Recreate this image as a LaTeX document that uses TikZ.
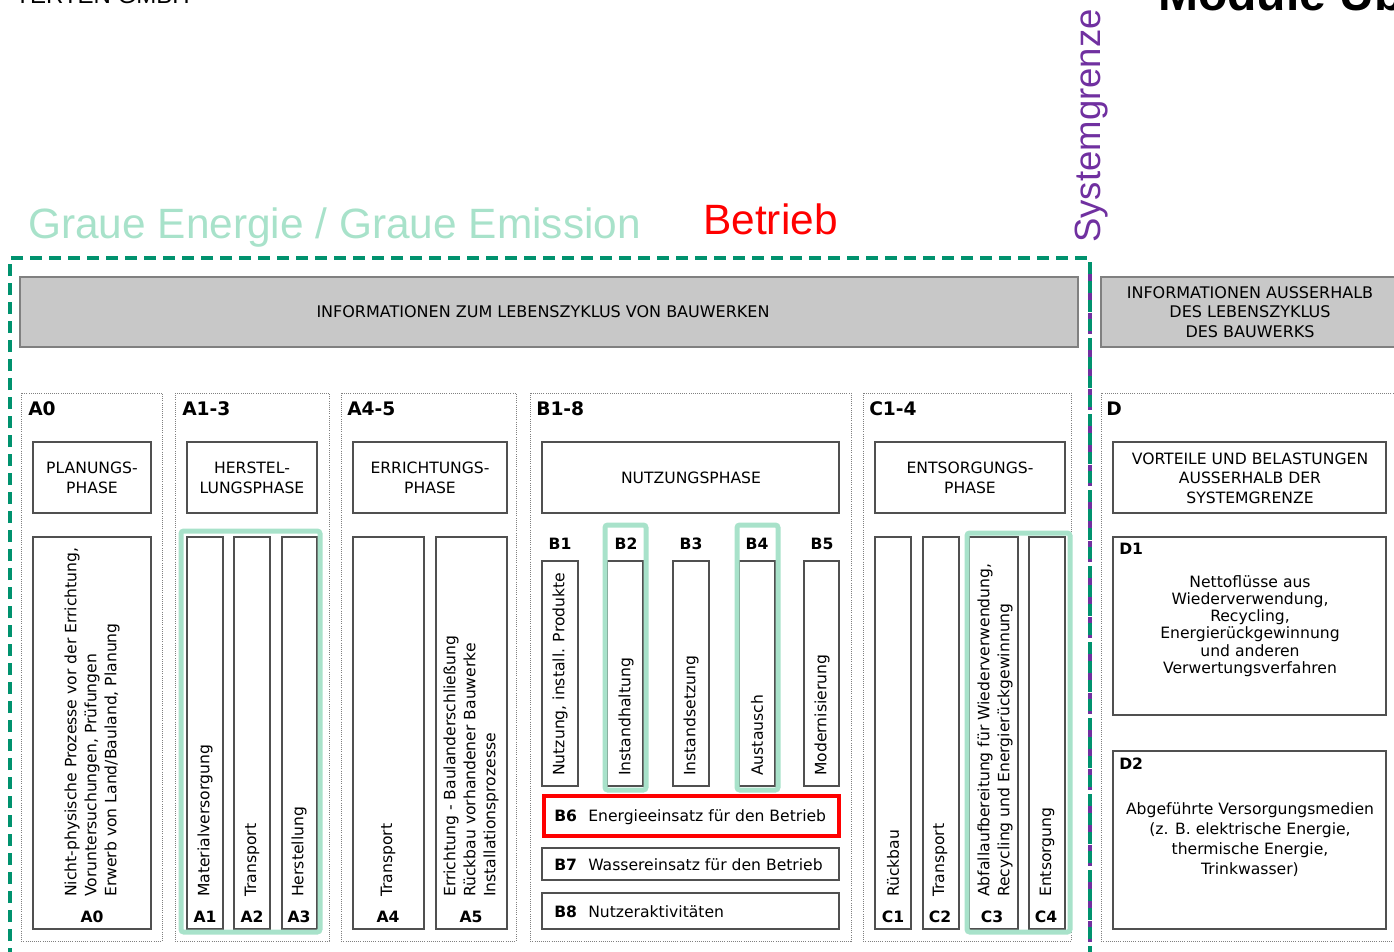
\documentclass[tikz,border=0pt]{standalone}
\usepackage{fontspec}
\setmainfont{DejaVu Sans}
\newfontfamily\arialfont{Liberation Sans}
\definecolor{dgreen}{RGB}{0,146,110}
\definecolor{lgreen}{RGB}{168,226,202}
\definecolor{sgpurple}{RGB}{112,48,160}
\definecolor{hdrgray}{RGB}{200,200,200}
\definecolor{boxline}{RGB}{80,80,80}
\definecolor{redline}{RGB}{255,0,0}
\newcommand\bfs{\fontsize{11.7pt}{15pt}\selectfont}
\begin{document}
\begin{tikzpicture}[x=0.75pt,y=-0.75pt,
  box/.style={draw=boxline,line width=1.1pt,fill=white},
  hdr/.style={draw=gray,line width=0.8pt,fill=hdrgray},
  grp/.style={draw=gray,densely dotted,line width=0.6pt},
  gframe/.style={draw=lgreen,line width=3.75pt,rounded corners=2pt},
  txt/.style={inner sep=0pt,font=\bfs,align=center},
  rtxt/.style={inner sep=0pt,font=\bfs,align=left,rotate=90,anchor=west},
  glabel/.style={inner sep=0pt,font=\fontsize{14pt}{16pt}\selectfont\bfseries,anchor=base west},
  slabel/.style={inner sep=0pt,font=\bfs\bfseries,anchor=base},
  wlabel/.style={inner sep=0pt,font=\bfs\bfseries,anchor=base west},
  wtext/.style={inner sep=0pt,font=\bfs,anchor=base west},
  gdash/.style={draw=dgreen,line width=3pt,dash pattern=on 9pt off 5.25pt},
  pdash/.style={draw=sgpurple,line width=3pt,dash pattern=on 16pt off 3pt},
]
\useasboundingbox (0,0) rectangle (1394,951);
\clip (0,0) rectangle (1394,951);

% partial texts at top edge
\node[inner sep=0pt,anchor=base east,font=\arialfont\fontsize{18pt}{20pt}\selectfont] (corp) at (190,3) {TERTEN GMBH};
\node[inner sep=0pt,anchor=base west,font=\arialfont\bfseries\fontsize{36pt}{40pt}\selectfont] (mtitle) at (1158,10) {Module Übersicht};

% titles
\node[inner sep=0pt,anchor=base west,text=lgreen,font=\arialfont\fontsize{31.8pt}{34pt}\selectfont] (graue) at (28,238) {Graue Energie / Graue Emission};
\node[inner sep=0pt,anchor=base west,text=redline,font=\arialfont\fontsize{31.8pt}{34pt}\selectfont] (betrieb) at (703,234) {Betrieb};
\node[inner sep=0pt,anchor=base west,rotate=90,text=sgpurple,font=\arialfont\fontsize{27.4pt}{30pt}\selectfont] (sysg) at (1100,243) {Systemgrenze};

% gray headers
\draw[hdr] (20,277) rectangle (1078,347);
\node[txt,font=\fontsize{12pt}{15pt}\selectfont] (infolz) at (543,312) {INFORMATIONEN ZUM LEBENSZYKLUS VON BAUWERKEN};
\draw[hdr] (1101,277) rectangle (1400,347);
\node[txt,font=\fontsize{12pt}{14.6pt}\selectfont] (infoaus) at (1250,312) {INFORMATIONEN AUSSERHALB\\DES LEBENSZYKLUS\\DES BAUWERKS};

% groups
\draw[grp] (21,393) rectangle (162,941);
\draw[grp] (175,393) rectangle (329,941);
\draw[grp] (341,393) rectangle (516,941);
\draw[grp] (530,393) rectangle (851,941);
\draw[grp] (863,393) rectangle (1071,941);
\draw[grp] (1101,393) rectangle (1400,941);
\node[glabel] (gA0) at (28,415) {A0};
\node[glabel] (gA13) at (182,415) {A1-3};
\node[glabel] (gA45) at (347,415) {A4-5};
\node[glabel] (gB18) at (536,415) {B1-8};
\node[glabel] (gC14) at (869,415) {C1-4};
\node[glabel] (gD) at (1106,415) {D};

% phase headers
\draw[box] (33,442) rectangle (151,513);
\node[txt] (hA0) at (92,478) {PLANUNGS-\\PHASE};
\draw[box] (187,442) rectangle (317,513);
\node[txt] (hA13) at (252,478) {HERSTEL-\\LUNGSPHASE};
\draw[box] (353,442) rectangle (507,513);
\node[txt] (hA45) at (430,478) {ERRICHTUNGS-\\PHASE};
\draw[box] (542,442) rectangle (839,513);
\node[txt] (hB) at (691,478) {NUTZUNGSPHASE};
\draw[box] (875,442) rectangle (1065,513);
\node[txt] (hC) at (970,478) {ENTSORGUNGS-\\PHASE};
\draw[box] (1113,442) rectangle (1386,513);
\node[txt,font=\fontsize{11.7pt}{14.6pt}\selectfont] (hD) at (1250,478) {VORTEILE UND BELASTUNGEN\\AUSSERHALB DER\\SYSTEMGRENZE};

% A modules
\draw[box] (33,537) rectangle (151,929);
\node[rtxt] (tA0) at (92,897) {Nicht-physische Prozesse vor der Errichtung,\\Voruntersuchungen, Prüfungen\\Erwerb von Land/Bauland, Planung};
\node[slabel] (lA0) at (92,922) {A0};
\draw[box] (187,537) rectangle (223,929);
\draw[box] (234,537) rectangle (270,929);
\draw[box] (282,537) rectangle (317,929);
\node[rtxt] (tA1) at (205,897) {Materialversorgung};
\node[rtxt] (tA2) at (252,897) {Transport};
\node[rtxt] (tA3) at (299,897) {Herstellung};
\node[slabel] (lA1) at (205,922) {A1};
\node[slabel] (lA2) at (252,922) {A2};
\node[slabel] (lA3) at (299,922) {A3};
\draw[gframe] (181,531) rectangle (320,932);
\draw[box] (353,537) rectangle (424,929);
\draw[box] (436,537) rectangle (507,929);
\node[rtxt] (tA4) at (388,897) {Transport};
\node[rtxt] (tA5) at (471,897) {Errichtung - Baulanderschließung\\Rückbau vorhandener Bauwerke\\Installationsprozesse};
\node[slabel] (lA4) at (388,922) {A4};
\node[slabel] (lA5) at (471,922) {A5};

% B modules
\node[slabel] (lB1) at (560,549) {B1};
\node[slabel] (lB2) at (626,549) {B2};
\node[slabel] (lB3) at (691,549) {B3};
\node[slabel] (lB4) at (757,549) {B4};
\node[slabel] (lB5) at (822,549) {B5};
\draw[box] (542,561) rectangle (578,786);
\draw[box] (607,561) rectangle (643,786);
\draw[box] (673,561) rectangle (709,786);
\draw[box] (739,561) rectangle (775,786);
\draw[box] (804,561) rectangle (839,786);
\node[rtxt] (tB1) at (560,776) {Nutzung, install. Produkte};
\node[rtxt] (tB2) at (626,776) {Instandhaltung};
\node[rtxt] (tB3) at (691,776) {Instandsetzung};
\node[rtxt] (tB4) at (757,776) {Austausch};
\node[rtxt] (tB5) at (822,776) {Modernisierung};
\draw[gframe] (605,525) rectangle (646,790);
\draw[gframe] (737,525) rectangle (778,790);
\draw[draw=redline,line width=3pt] (544,796) rectangle (839,836);
\node[wlabel] (lB6) at (554,821) {B6};
\node[wtext] (tB6) at (588,821) {Energieeinsatz für den Betrieb};
\draw[box] (542,848) rectangle (839,880);
\node[wlabel] (lB7) at (554,870) {B7};
\node[wtext] (tB7) at (588,870) {Wassereinsatz für den Betrieb};
\draw[box] (542,893) rectangle (839,929);
\node[wlabel] (lB8) at (554,917) {B8};
\node[wtext] (tB8) at (588,917) {Nutzeraktivitäten};

% C modules
\draw[box] (875,537) rectangle (911,929);
\draw[box] (923,537) rectangle (959,929);
\draw[box] (969,537) rectangle (1018,929);
\draw[box] (1029,537) rectangle (1065,929);
\node[rtxt] (tC1) at (893,897) {Rückbau};
\node[rtxt] (tC2) at (940,897) {Transport};
\node[rtxt] (tC3) at (995,897) {Abfallaufbereitung für Wiederverwendung,\\Recycling und Energierückgewinnung};
\node[rtxt] (tC4) at (1047,897) {Entsorgung};
\node[slabel] (lC1) at (893,922) {C1};
\node[slabel] (lC2) at (940,922) {C2};
\node[slabel] (lC3) at (992,922) {C3};
\node[slabel] (lC4) at (1046,922) {C4};
\draw[gframe] (967,533) rectangle (1070,932);

% D modules
\draw[box] (1113,537) rectangle (1386,715);
\node[wlabel] (lD1) at (1119,554) {D1};
\node[txt,font=\fontsize{11.7pt}{12.9pt}\selectfont] (tD1) at (1250,626) {Nettoflüsse aus\\Wiederverwendung,\\Recycling,\\Energierückgewinnung\\und anderen\\Verwertungsverfahren};
\draw[box] (1113,751) rectangle (1386,929);
\node[wlabel] (lD2) at (1119,769) {D2};
\node[txt] (tD2) at (1250,840) {Abgeführte Versorgungsmedien\\(z. B. elektrische Energie,\\thermische Energie,\\Trinkwasser)};

% system boundary and grey-energy frame
\draw[pdash] (1090,262) -- (1090,960);
\draw[gdash] (10,960) -- (10,258) -- (1090,258) -- (1090,960);
\end{tikzpicture}
\end{document}
